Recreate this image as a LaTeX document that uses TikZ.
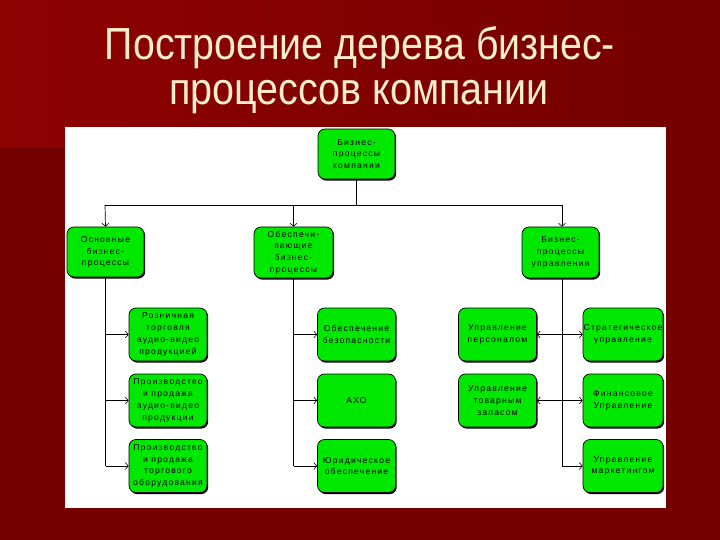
\documentclass[tikz,border=0pt]{standalone}
\usepackage{fontspec}
\setmainfont{Liberation Sans}
\newfontfamily\boxfnt[LetterSpace=14]{Liberation Sans}
\usetikzlibrary{arrows.meta,shadows}
\definecolor{bgdark}{RGB}{116,0,0}
\definecolor{bglight}{RGB}{142,2,2}
\definecolor{titlecol}{RGB}{248,238,205}
\definecolor{boxgreen}{RGB}{0,232,0}
\tikzset{
  box/.style={draw=black, line width=0.7pt, fill=boxgreen, rounded corners=7pt,
    minimum width=78pt, minimum height=53pt, align=center, inner sep=0pt,
    font=\boxfnt\fontsize{8.6}{11.8}\selectfont,
    general shadow={shadow xshift=1.2pt, shadow yshift=-1.6pt, fill=black}},
  link/.style={line width=0.7pt, draw=black},
  arr/.style={link, -{Straight Barb[length=3pt,width=7pt,line width=0.6pt]}},
  darr/.style={link, {Straight Barb[length=3pt,width=7pt,line width=0.6pt]}-{Straight Barb[length=3pt,width=7pt,line width=0.6pt]}},
  ttl/.style={text=titlecol, font=\fontsize{45}{50}\selectfont, anchor=base, inner sep=0pt}
}
\begin{document}
\begin{tikzpicture}[x=1pt,y=-1pt]
\useasboundingbox (0,0) rectangle (720,540);
\fill[bgdark] (0,0) rectangle (720,540);
\shade[left color=bglight, right color=bgdark] (0,0) rectangle (720,148);
\fill[white] (65,127) rectangle (666,508);
% title
\node[ttl, xscale=0.873] (t1) at (360,60) {Построение дерева бизнес-};
\node[ttl, xscale=0.877] (t2) at (359,105) {процессов компании};
% top
\node[box, minimum width=77pt, minimum height=50pt] (top) at (356.5,154) {Бизнес-\\процессы\\компании};
\node[box, minimum width=77pt, minimum height=50pt] (m1) at (105.5,252) {Основные\\бизнес-\\процессы};
\node[box, minimum width=79pt, minimum height=51pt] (m2) at (293.5,252.5) {Обеспечи-\\вающие\\бизнес-\\процессы};
\node[box, minimum width=77pt, minimum height=51pt] (m3) at (560.5,252.5) {Бизнес-\\процессы\\управления};
% column A
\node[box] (a1) at (168,334.5) {Розничная\\торговля\\аудио-видео\\продукцией};
\node[box] (a2) at (168,400.5) {Производство\\и продажа\\аудио-видео\\продукции};
\node[box] (a3) at (168,466) {Производство\\и продажа\\торгового\\оборудования};
% column B
\node[box] (b1) at (356.5,334.5) {Обеспечение\\безопасности};
\node[box] (b2) at (356.5,400.5) {АХО};
\node[box] (b3) at (356.5,466) {Юридическое\\обеспечение};
% column C
\node[box] (c1) at (497.5,334.5) {Управление\\персоналом};
\node[box] (c2) at (497.5,400.5) {Управление\\товарным\\запасом};
% column D
\node[box, minimum width=80pt] (d1) at (623,334.5) {Стратегическое\\управление};
\node[box, minimum width=80pt] (d2) at (623,400.5) {Финансовое\\Управление};
\node[box, minimum width=80pt] (d3) at (623,466) {Управление\\маркетингом};
% bus
\coordinate (busL) at (105,205);
\coordinate (busR) at (562,205);
\draw[link] (top.south) -- (top.south |- busL);
\draw[link] (busL) -- (busR);
\draw[arr] (busL) -- (m1.north);
\draw[arr] (m2.north |- busL) -- (m2.north);
\draw[arr] (busR) -- (busR |- m3.north);
% column A links
\draw[link] (m1.south) -- (m1.south |- a3.west);
\draw[arr] (m1.south |- a1.west) -- (a1.west);
\draw[arr] (m1.south |- a2.west) -- (a2.west);
\draw[arr] (m1.south |- a3.west) -- (a3.west);
% column B links
\draw[link] (m2.south) -- (m2.south |- b3.west);
\draw[arr] (m2.south |- b1.west) -- (b1.west);
\draw[arr] (m2.south |- b2.west) -- (b2.west);
\draw[arr] (m2.south |- b3.west) -- (b3.west);
% right links
\draw[link] (busR |- m3.south) -- (busR |- d3.west);
\draw[darr] (c1.east) -- (d1.west);
\draw[darr] (c2.east) -- (d2.west);
\draw[arr] (busR |- d3.west) -- (d3.west);
\end{tikzpicture}
\end{document}
